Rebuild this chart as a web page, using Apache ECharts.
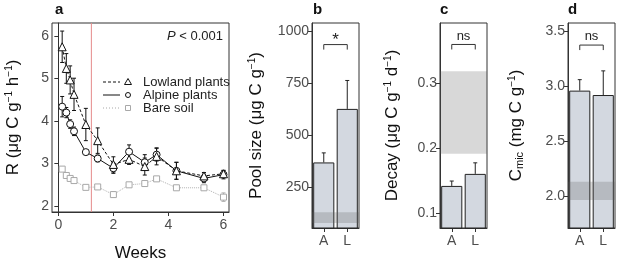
<!DOCTYPE html>
<html>
<head>
<meta charset="utf-8">
<script src="https://cdn.jsdelivr.net/npm/echarts@6/dist/echarts.min.js"></script>
<style>
  html, body { margin: 0; padding: 0; background: #fff; }
  #chart { width: 617px; height: 267px; }
</style>
</head>
<body>
<div id="chart"></div>
<script>
// panel a: respiration over time
const weeks = [0.14, 0.29, 0.43, 0.57, 1.0, 1.43, 2.0, 2.57, 3.14, 3.57, 4.29, 5.29, 6.0];
const lowland = [5.75, 5.24, 4.97, 4.63, 3.92, 3.54, 2.98, 3.10, 2.93, 3.17, 2.83, 2.71, 2.76];
const lowlandErr = [0.37, 0.35, 0.33, 0.38, 0.38, 0.30, 0.18, 0.12, 0.20, 0.20, 0.20, 0.08, 0.08];
const alpine = [4.34, 4.20, 3.93, 3.76, 3.27, 3.12, 2.89, 3.28, 3.03, 3.21, 2.83, 2.65, 2.74];
const alpineErr = [0.24, 0.12, 0.10, 0.10, 0.06, 0.08, 0.12, 0.16, 0.18, 0.15, 0.20, 0.10, 0.10];
const bare = [2.87, 2.72, 2.65, 2.60, 2.44, 2.45, 2.27, 2.50, 2.53, 2.64, 2.43, 2.43, 2.21];
const bareErr = [0.05, 0.04, 0.03, 0.03, 0.03, 0.03, 0.06, 0.04, 0.04, 0.04, 0.04, 0.04, 0.10];
const pulseWeek = 1.2;
const weekTicks = [0, 2, 4, 6];
const rTicks = [2, 3, 4, 5, 6];
const legendNames = ['Lowland plants', 'Alpine plants', 'Bare soil'];

// panels b-d: A = alpine, L = lowland
const groups = ['A', 'L'];
const poolSize = [368, 626];
const poolErr = [46, 137];
const poolBand = [76, 128];
const poolTicks = [250, 500, 750, 1000];
const decay = [0.1425, 0.161];
const decayErr = [0.0075, 0.017];
const decayBand = [0.192, 0.319];
const decayTicks = [0.1, 0.2, 0.3];
const cmic = [2.96, 2.92];
const cmicErr = [0.10, 0.22];
const cmicBand = [1.965, 2.13];
const cmicTicks = [2.0, 2.5, 3.0, 3.5];
const signif = ['*', 'ns', 'ns'];

const chart = echarts.init(document.getElementById('chart'));

const FONT = 'Liberation Sans, Arial, Helvetica, sans-serif';
const INK = '#333';
const TICKC = '#4d4d4d';
const TOP = 23, HEIGHT = 205;

const supRich = {
  s: { fontSize: 10, fontFamily: FONT, color: '#111', padding: [0, 0, 9, 0] },
  b: { fontSize: 11, fontFamily: FONT, color: '#111', padding: [7, 0, 0, 0] }
};

function valueAxis(idx, min, max, ticks, name, gap, fmt) {
  return {
    type: 'value', gridIndex: idx, min: min, max: max,
    splitLine: { show: false },
    axisLine: { show: true, lineStyle: { color: INK } },
    axisTick: { show: true, length: 4, lineStyle: { color: INK }, customValues: ticks },
    axisLabel: { color: TICKC, fontSize: 14, fontFamily: FONT, margin: 3, customValues: ticks,
      formatter: fmt || (v => String(v)) },
    name: name, nameLocation: 'middle', nameGap: gap, nameRotate: 90,
    nameTextStyle: { fontSize: 17, fontFamily: FONT, color: '#111', rich: supRich }
  };
}

function catAxis(idx) {
  return {
    type: 'category', gridIndex: idx, data: groups,
    axisLine: { show: true, lineStyle: { color: INK } },
    axisTick: { show: true, length: 4, alignWithLabel: true, lineStyle: { color: INK } },
    axisLabel: { color: TICKC, fontSize: 14, fontFamily: FONT, margin: 6 }
  };
}

function errorBars(idx, xs, ys, es, color, upperOnly, cap) {
  return {
    type: 'custom', xAxisIndex: idx, yAxisIndex: idx, silent: true, z: 3,
    data: xs.map((x, i) => [x, upperOnly ? ys[i] : ys[i] - es[i], ys[i] + es[i]]),
    renderItem(params, api) {
      const lo = api.coord([api.value(0), api.value(1)]);
      const hi = api.coord([api.value(0), api.value(2)]);
      const st = { stroke: color, lineWidth: 1 };
      const kids = [
        { type: 'line', shape: { x1: lo[0], y1: lo[1], x2: hi[0], y2: hi[1] }, style: st },
        { type: 'line', shape: { x1: hi[0] - cap, y1: hi[1], x2: hi[0] + cap, y2: hi[1] }, style: st }
      ];
      if (!upperOnly) {
        kids.push({ type: 'line', shape: { x1: lo[0] - cap, y1: lo[1], x2: lo[0] + cap, y2: lo[1] }, style: st });
      }
      return { type: 'group', children: kids };
    }
  };
}

function band(idx, range) {
  return {
    type: 'custom', xAxisIndex: idx, yAxisIndex: idx, silent: true, z: 4,
    data: [[0, range[0], range[1]]],
    renderItem(params, api) {
      const lo = api.coord([0, api.value(1)]);
      const hi = api.coord([0, api.value(2)]);
      const cs = params.coordSys;
      return { type: 'rect', shape: { x: cs.x, y: hi[1], width: cs.width, height: lo[1] - hi[1] },
        style: { fill: 'rgba(90,90,90,0.24)' } };
    }
  };
}

function bracket(idx, yv, label) {
  return {
    type: 'custom', xAxisIndex: idx, yAxisIndex: idx, silent: true, z: 5,
    data: [[0, 1, yv]],
    renderItem(params, api) {
      const a = api.coord([api.value(0), api.value(2)]);
      const b = api.coord([api.value(1), api.value(2)]);
      const st = { stroke: INK, lineWidth: 1, fill: null };
      return { type: 'group', children: [
        { type: 'polyline', shape: { points: [[a[0], a[1] + 5], [a[0], a[1]], [b[0], b[1]], [b[0], b[1] + 5]] }, style: st },
        { type: 'text', x: (a[0] + b[0]) / 2, y: a[1] - (label === '*' ? 4 : 2),
          style: { text: label, fill: '#222', fontSize: label === '*' ? 17 : 13, fontFamily: FONT,
            align: 'center', verticalAlign: label === '*' ? 'middle' : 'bottom' } }
      ] };
    }
  };
}

function barSeries(idx, vals) {
  return {
    type: 'bar', xAxisIndex: idx, yAxisIndex: idx, data: vals, barWidth: '90%', z: 2,
    itemStyle: { color: '#d3d8e0', borderColor: '#222', borderWidth: 1 }, silent: true
  };
}

// hand-drawn legend (line then symbol then text), as in the original figure
function legendRow(i, dash, color, symbol) {
  const y = 82 + i * 13;
  const kids = [
    { type: 'line', shape: { x1: 103, y1: y, x2: 120, y2: y }, style: { stroke: color, lineWidth: 1, lineDash: dash } },
    { type: 'text', x: 143, y: y, style: { text: legendNames[i], fontSize: 13, fontFamily: FONT, fill: '#222', verticalAlign: 'middle' } }
  ];
  const sym = { stroke: color, fill: '#fff', lineWidth: 1 };
  if (symbol === 'triangle') kids.push({ type: 'polygon', shape: { points: [[128, y - 3.5], [131.5, y + 2.5], [124.5, y + 2.5]] }, style: sym });
  if (symbol === 'circle') kids.push({ type: 'circle', shape: { cx: 128, cy: y, r: 2.5 }, style: sym });
  if (symbol === 'rect') kids.push({ type: 'rect', shape: { x: 125.5, y: y - 2.5, width: 5, height: 5 }, style: sym });
  return { type: 'group', children: kids };
}

const option = {
  animation: false,
  textStyle: { fontFamily: FONT },
  grid: [
    { left: 52, top: TOP, width: 177, height: HEIGHT },
    { left: 312, top: TOP, width: 47, height: HEIGHT },
    { left: 440, top: TOP, width: 47, height: HEIGHT },
    { left: 568, top: TOP, width: 47, height: HEIGHT }
  ].map(g => Object.assign(g, { show: true, borderColor: INK, borderWidth: 1, containLabel: false })),
  xAxis: [
    {
      type: 'value', gridIndex: 0, min: -0.23, max: 6.2,
      splitLine: { show: false },
      axisLine: { show: true, lineStyle: { color: INK } },
      axisTick: { show: true, length: 4, lineStyle: { color: INK }, customValues: weekTicks },
      axisLabel: { color: TICKC, fontSize: 14, fontFamily: FONT, margin: 6, customValues: weekTicks },
      name: 'Weeks', nameLocation: 'middle', nameGap: 33,
      nameTextStyle: { fontSize: 17, fontFamily: FONT, color: '#111' }
    },
    catAxis(1), catAxis(2), catAxis(3)
  ],
  yAxis: [
    valueAxis(0, 1.86, 6.31, rTicks, 'R (μg C g{s|−1} h{s|−1})', 29),
    valueAxis(1, 52, 1040, poolTicks, 'Pool size (μg C g{s|−1})', 46),
    valueAxis(2, 0.0778, 0.393, decayTicks, 'Decay (μg C g{s|−1} d{s|−1})', 38, v => v.toFixed(1)),
    valueAxis(3, 1.709, 3.576, cmicTicks, 'C{b|mic} (mg C g{s|−1})', 42, v => v.toFixed(1))
  ],
  graphic: [
    { type: 'text', left: 55, top: 2, style: { text: 'a', fontSize: 15, fontWeight: 'bold', fontFamily: FONT, fill: '#111' } },
    { type: 'text', left: 313, top: 2, style: { text: 'b', fontSize: 15, fontWeight: 'bold', fontFamily: FONT, fill: '#111' } },
    { type: 'text', left: 440, top: 2, style: { text: 'c', fontSize: 15, fontWeight: 'bold', fontFamily: FONT, fill: '#111' } },
    { type: 'text', left: 568, top: 2, style: { text: 'd', fontSize: 15, fontWeight: 'bold', fontFamily: FONT, fill: '#111' } },
    { type: 'text', right: 617 - 223, top: 30, style: {
      text: '{i|P}{n| < 0.001}', fontFamily: FONT,
      rich: { i: { fontStyle: 'italic', fontSize: 13, fontFamily: FONT, fill: '#222' },
              n: { fontSize: 13, fontFamily: FONT, fill: '#222' } } } },
    legendRow(0, [3, 2], '#111', 'triangle'),
    legendRow(1, null, '#111', 'circle'),
    legendRow(2, [1, 2], '#a8a8a8', 'rect')
  ],
  series: [
    // vertical marker for the end of the labelling pulse
    {
      type: 'custom', xAxisIndex: 0, yAxisIndex: 0, silent: true, z: 1,
      data: [[pulseWeek]],
      renderItem(params, api) {
        const x = api.coord([api.value(0), 2])[0];
        const cs = params.coordSys;
        return { type: 'line', shape: { x1: x, y1: cs.y, x2: x, y2: cs.y + cs.height },
          style: { stroke: '#e58b8b', lineWidth: 1 } };
      }
    },
    errorBars(0, weeks, bare, bareErr, '#b0b0b0', false, 2),
    errorBars(0, weeks, alpine, alpineErr, '#111', false, 2),
    errorBars(0, weeks, lowland, lowlandErr, '#111', false, 2),
    {
      name: 'Bare soil', type: 'line', xAxisIndex: 0, yAxisIndex: 0, z: 4,
      data: weeks.map((w, i) => [w, bare[i]]),
      symbol: 'rect', symbolSize: 6,
      lineStyle: { color: '#b0b0b0', width: 1, type: 'dotted' },
      itemStyle: { color: '#fff', borderColor: '#a8a8a8', borderWidth: 1 }
    },
    {
      name: 'Alpine plants', type: 'line', xAxisIndex: 0, yAxisIndex: 0, z: 5,
      data: weeks.map((w, i) => [w, alpine[i]]),
      symbol: 'circle', symbolSize: 7,
      lineStyle: { color: '#111', width: 1, type: 'solid' },
      itemStyle: { color: '#fff', borderColor: '#111', borderWidth: 1 }
    },
    {
      name: 'Lowland plants', type: 'line', xAxisIndex: 0, yAxisIndex: 0, z: 6,
      data: weeks.map((w, i) => [w, lowland[i]]),
      symbol: 'triangle', symbolSize: 8,
      lineStyle: { color: '#111', width: 1, type: [3, 2] },
      itemStyle: { color: '#fff', borderColor: '#111', borderWidth: 1 }
    },

    barSeries(1, poolSize), errorBars(1, [0, 1], poolSize, poolErr, '#222', true, 2), band(1, poolBand), bracket(1, 936, signif[0]),
    barSeries(2, decay), errorBars(2, [0, 1], decay, decayErr, '#222', true, 2), band(2, decayBand), bracket(2, 0.36, signif[1]),
    barSeries(3, cmic), errorBars(3, [0, 1], cmic, cmicErr, '#222', true, 2), band(3, cmicBand), bracket(3, 3.375, signif[2])
  ]
};

chart.setOption(option);
</script>
</body>
</html>
